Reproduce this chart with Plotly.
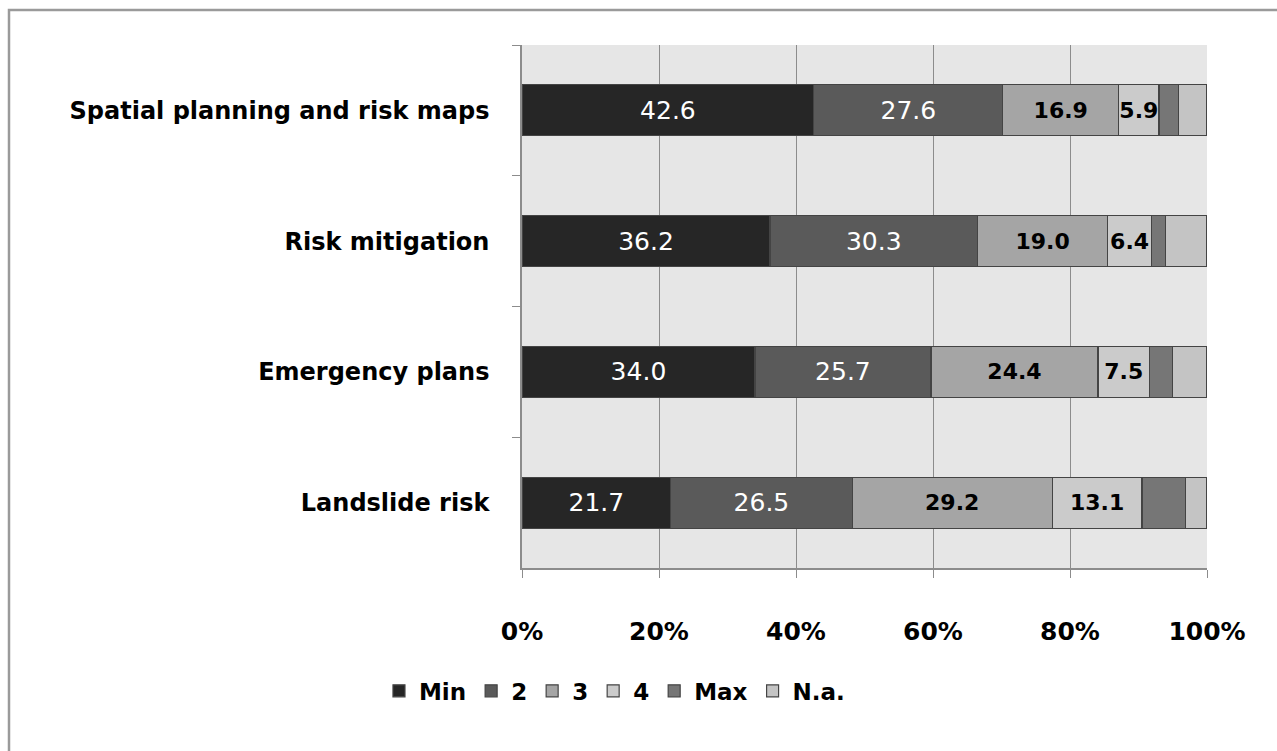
import plotly.graph_objects as go

categories = ["Spatial planning and risk maps", "Risk mitigation", "Emergency plans", "Landslide risk"]
series_names = ["Min", "2", "3", "4", "Max", "N.a."]
v_min = [42.6, 36.2, 34.0, 21.7]
v_2 = [27.6, 30.3, 25.7, 26.5]
v_3 = [16.9, 19.0, 24.4, 29.2]
v_4 = [5.9, 6.4, 7.5, 13.1]
v_max = [2.8, 2.0, 3.4, 6.4]
v_na = [4.2, 6.1, 5.0, 3.1]
tick_vals = [0, 20, 40, 60, 80, 100]
tick_text = ["0%", "20%", "40%", "60%", "80%", "100%"]

series_values = [v_min, v_2, v_3, v_4, v_max, v_na]
colors = ["#262626", "#5a5a5a", "#a5a5a5", "#cbcbcb", "#767676", "#c4c4c4"]
label_styles = [
    dict(color="white", size=25, family="DejaVu Sans", weight="normal"),
    dict(color="white", size=25, family="DejaVu Sans", weight="normal"),
    dict(color="black", size=22, family="DejaVu Sans", weight="bold"),
    dict(color="black", size=22, family="DejaVu Sans", weight="bold"),
    None,
    None,
]

fig = go.Figure()
for name, vals, col, lab in zip(series_names, series_values, colors, label_styles):
    kw = {}
    if lab is not None:
        kw = dict(text=[f"{v:.1f}" for v in vals], textposition="inside", textangle=0,
                  insidetextanchor="middle", textfont=lab, constraintext="none")
    fig.add_trace(go.Bar(
        y=categories, x=vals, name=name, orientation="h",
        marker=dict(color=col, line=dict(color="#444444", width=1.2)),
        width=0.39, hoverinfo="skip", **kw))

fig.update_layout(
    barmode="stack",
    width=1277, height=751,
    margin=dict(l=522, r=70, t=45, b=183),
    paper_bgcolor="white",
    plot_bgcolor="#e6e6e6",
    showlegend=True,
    legend=dict(orientation="h", x=0.135, y=-0.235, xanchor="center", yanchor="middle",
                font=dict(family="DejaVu Sans", size=23, color="black", weight="bold"),
                itemwidth=30, tracegroupgap=0, traceorder="normal"),
    xaxis=dict(range=[0, 100], tickvals=tick_vals, ticktext=tick_text,
               showgrid=True, gridcolor="#8c8c8c", gridwidth=1,
               showline=True, linecolor="#8c8c8c", linewidth=1.5,
               ticks="outside", ticklen=8, tickcolor="#8c8c8c",
               tickfont=dict(family="DejaVu Sans", size=25, color="black", weight="bold"),
               ticklabelstandoff=32, zeroline=False, fixedrange=True),
    yaxis=dict(categoryorder="array", categoryarray=categories, autorange="reversed",
               showline=True, linecolor="#8c8c8c", linewidth=1.5,
               ticks="outside", ticklen=8, tickcolor="#8c8c8c", tickson="boundaries",
               showgrid=False,
               tickfont=dict(family="DejaVu Sans", size=24, color="black", weight="bold"),
               ticklabelstandoff=26, fixedrange=True),
)

# outer chart frame
fig.add_shape(type="rect", xref="paper", yref="paper",
              x0=(9 - 522) / 685, x1=(1300 - 522) / 685,
              y0=(568 - 780) / 523, y1=(568 - 10) / 523,
              line=dict(color="#9a9a9a", width=2.5), fillcolor="rgba(0,0,0,0)", layer="below")

fig.write_html("out.html")
